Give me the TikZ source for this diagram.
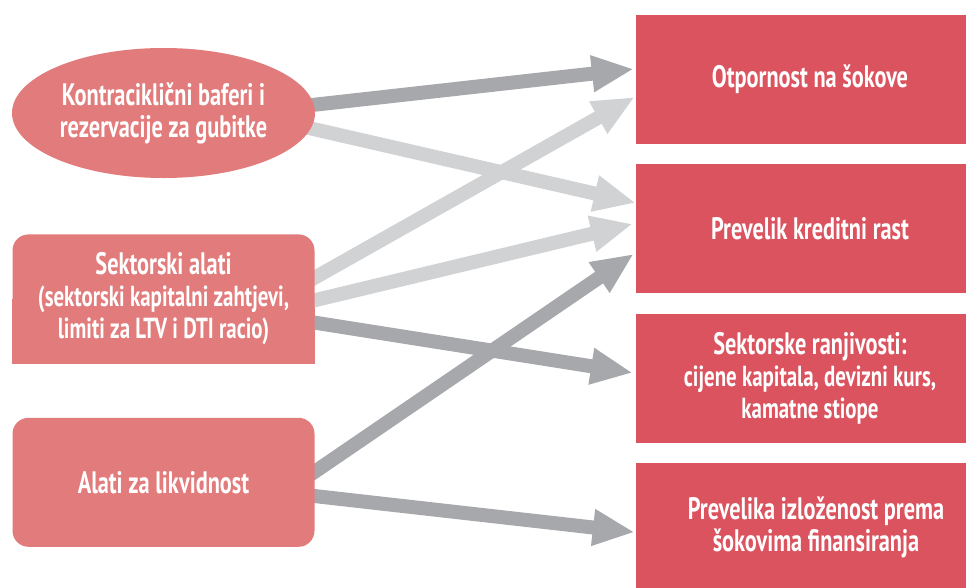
\documentclass[tikz,border=0pt]{standalone}
\usepackage{fontspec}
\setmainfont{PT Sans}[FakeStretch=0.72]
\usetikzlibrary{positioning,shapes.geometric,arrows.meta,calc,backgrounds}

\definecolor{toolred}{HTML}{E27B7B}
\definecolor{riskred}{HTML}{DB535E}
\definecolor{darkarrow}{HTML}{A7A8AB}
\definecolor{lightarrow}{HTML}{D1D2D4}
\newcommand{\subline}[1]{{\fontsize{29}{31}\selectfont #1}}

\tikzset{
  tool/.style={fill=toolred, text=white, minimum width=302pt, minimum height=129pt,
    inner sep=0pt, align=center, font=\bfseries\fontsize{31}{32}\selectfont},
  risk/.style={fill=riskred, text=white, minimum width=348pt, minimum height=129pt,
    inner sep=0pt, align=center, font=\bfseries\fontsize{31}{32}\selectfont},
  link/.style={line width=14pt, -{Triangle[length=42pt,width=34pt]}},
}

\begin{document}
\begin{tikzpicture}[x=1pt,y=-1pt,node distance=20pt]
    \useasboundingbox (0,0) rectangle (966,587);
    \clip (0,0) rectangle (966,587);
    % tools
    \node[tool, ellipse, minimum width=303pt, minimum height=130pt] (kontra) at (163.5,113) {Kontraciklični baferi i\\rezervacije za gubitke};
    \node[tool, rounded corners=16pt, below=56pt of kontra] (sektor) {Sektorski alati\\\subline{(sektorski kapitalni zahtjevi,}\\\subline{limiti za LTV i DTI racio)}};
    \node[tool, rounded corners=16pt, below=54pt of sektor] (likvid) {Alati za likvidnost};
    % risks
    \node[risk] (otpor) at (810,79.5) {Otpornost na šokove};
    \node[risk, below=of otpor] (kredit) {Prevelik kreditni rast};
    \node[risk, below=of kredit] (ranjiv) {Sektorske ranjivosti:\\\subline{cijene kapitala, devizni kurs,}\\\subline{kamatne stiope}};
    \node[risk, below=of ranjiv] (izlozen) {\hspace*{12pt}Prevelika izloženost prema\\\hspace*{12pt}šokovima finansiranja};

    \begin{scope}[on background layer]
    \fill[toolred] (sektor.west) rectangle (sektor.south east);
    % tool -> risk
    \draw[link, darkarrow] ($(kontra.east)+(-12,-7)$) -- ($(otpor.west)+(-2,-10.5)$);
    \draw[link, lightarrow] ($(kontra.east)+(-15,13)$) -- ($(kredit.west)+(0,-26)$);
    \draw[link, lightarrow] ($(sektor.east)+(-11,-15)$) -- ($(otpor.west)+(-1,17.5)$);
    \draw[link, lightarrow] ($(sektor.east)+(-11,4)$) -- ($(kredit.west)+(-3,-5)$);
    \draw[link, darkarrow] ($(sektor.east)+(-11,22)$) -- ($(ranjiv.west)+(-3,-5.5)$);
    \draw[link, darkarrow] ($(likvid.east)+(-11,-3)$) -- ($(kredit.west)+(-2,25)$);
    \draw[link, darkarrow] ($(likvid.east)+(-11,12.5)$) -- ($(izlozen.west)+(-1,4.5)$);
    \end{scope}
\end{tikzpicture}
\end{document}
